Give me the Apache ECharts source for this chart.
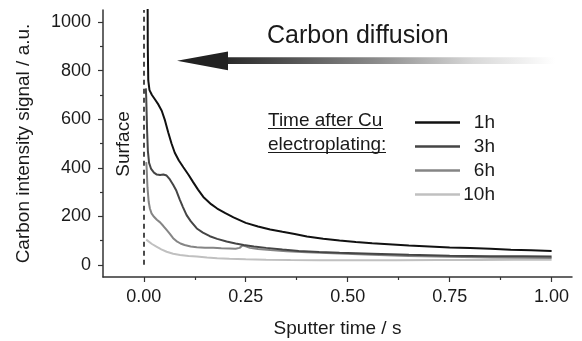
<!DOCTYPE html>
<html>
<head>
<meta charset="utf-8">
<script src="https://cdn.jsdelivr.net/npm/echarts@6/dist/echarts.min.js"></script>
<style>
html,body{margin:0;padding:0;background:#fff;}
#chart{width:582px;height:341px;}
</style>
</head>
<body>
<div id="chart"></div>
<script>
// ---- data ----
var seriesNames = ['1h', '3h', '6h', '10h'];

var x1h = [0.009, 0.0098, 0.011, 0.014, 0.020, 0.028, 0.036, 0.044, 0.052, 0.060, 0.068, 0.076, 0.086, 0.097, 0.110, 0.121, 0.133, 0.146, 0.165, 0.180, 0.200, 0.220, 0.250, 0.280, 0.310, 0.340, 0.370, 0.400, 0.440, 0.480, 0.520, 0.560, 0.600, 0.650, 0.700, 0.750, 0.800, 0.850, 0.900, 0.950, 1.000];
var y1h = [1300, 900, 760, 720, 700, 680, 660, 635, 595, 545, 500, 462, 430, 402, 370, 341, 310, 280, 250, 232, 213, 196, 173, 158, 146, 136, 127, 117, 108, 100, 94, 89, 85, 80, 76, 72, 69, 66, 62, 60, 57];

var x3h = [0.005, 0.006, 0.008, 0.010, 0.013, 0.018, 0.025, 0.032, 0.040, 0.048, 0.056, 0.064, 0.072, 0.080, 0.088, 0.096, 0.105, 0.115, 0.130, 0.145, 0.162, 0.180, 0.203, 0.225, 0.245, 0.270, 0.300, 0.340, 0.380, 0.430, 0.480, 0.560, 0.650, 0.750, 0.850, 0.930, 1.000];
var y3h = [727, 690, 560, 470, 420, 395, 380, 372, 370, 372, 368, 352, 330, 305, 270, 238, 205, 180, 150, 133, 118, 107, 96, 88, 82, 76, 70, 63, 57, 53, 50, 46, 42, 38, 36, 35, 34];

var x6h = [0.006, 0.007, 0.009, 0.012, 0.015, 0.019, 0.025, 0.032, 0.040, 0.048, 0.056, 0.064, 0.072, 0.080, 0.090, 0.100, 0.115, 0.130, 0.150, 0.170, 0.190, 0.210, 0.225, 0.235, 0.242, 0.250, 0.260, 0.280, 0.310, 0.350, 0.400, 0.480, 0.560, 0.650, 0.750, 0.850, 0.930, 1.000];
var y6h = [423, 400, 320, 260, 232, 212, 198, 186, 175, 160, 144, 128, 110, 98, 88, 82, 76, 73, 71, 70, 68, 67, 66, 70, 80, 76, 70, 65, 61, 56, 52, 47, 42, 37, 33, 30, 29, 28];

var x10h = [0.006, 0.010, 0.020, 0.031, 0.043, 0.056, 0.072, 0.089, 0.110, 0.130, 0.155, 0.180, 0.210, 0.250, 0.300, 0.360, 0.430, 0.520, 0.620, 0.720, 0.820, 0.910, 1.000];
var y10h = [104, 98, 86, 75, 64, 54, 46, 41, 37, 34, 30, 27, 25, 23, 21, 20, 19, 19, 19, 20, 20, 21, 21];

var xTickValues = [0, 0.25, 0.5, 0.75, 1.0];
var xMinorTickValues = [0.125, 0.375, 0.625, 0.875];
var yTickValues = [0, 200, 400, 600, 800, 1000];
var yMinorTickValues = [100, 300, 500, 700, 900];

var legendTitle = ['Time after Cu', 'electroplating:'];
var arrowLabel = 'Carbon diffusion';
var surfaceLabel = 'Surface';

// ---- chart ----
var FONT = '"Liberation Sans", Arial, Helvetica, sans-serif';
var TXT = '#1a1a1a';
var colors = ['#111111', '#454545', '#858585', '#c0c0c0'];

function pairs(xs, ys) { return xs.map(function (x, i) { return [x, ys[i]]; }); }
var seriesData = [pairs(x1h, y1h), pairs(x3h, y3h), pairs(x6h, y6h), pairs(x10h, y10h)];

var chart = echarts.init(document.getElementById('chart'), null, { renderer: 'canvas' });

var series = seriesNames.map(function (n, i) {
  var s = {
    name: n, type: 'line', data: seriesData[i], showSymbol: false, symbol: 'none',
    smooth: false, clip: true, animation: false,
    lineStyle: { color: colors[i], width: 2 }, itemStyle: { color: colors[i] },
    z: 10 - i
  };
  if (i === 0) {
    s.markLine = {
      silent: true, symbol: ['none', 'none'], animation: false,
      label: { show: false },
      lineStyle: { type: [5, 4], color: '#111', width: 1.5 },
      data: [[{ coord: [0, 0] }, { coord: [0, 1050] }]]
    };
  }
  return s;
});

var axisLine = { show: true, onZero: false, lineStyle: { color: '#333', width: 1.5 } };
var hiddenLine = { show: false, onZero: false };

var option = {
  animation: false,
  backgroundColor: '#fff',
  grid: { left: 103, right: 10, top: 10, bottom: 64, containLabel: false, outerBoundsMode: 'none' },
  xAxis: [{
    type: 'value', min: -0.1, max: 1.05, position: 'bottom',
    name: 'Sputter time / s', nameLocation: 'middle', nameGap: 42,
    nameTextStyle: { fontFamily: FONT, fontSize: 19, color: TXT },
    axisLine: axisLine,
    axisTick: { show: true, inside: false, length: 5, customValues: xTickValues, lineStyle: { color: '#333', width: 1.2 } },
    axisLabel: { show: true, customValues: xTickValues, margin: 11, fontFamily: FONT, fontSize: 18, color: TXT,
      formatter: function (v) { return v.toFixed(2); } },
    splitLine: { show: false }
  }, {
    type: 'value', min: -0.1, max: 1.05, position: 'bottom', offset: 0,
    axisLine: hiddenLine,
    axisTick: { show: true, inside: false, length: 3, customValues: xMinorTickValues, lineStyle: { color: '#333', width: 1.2 } },
    axisLabel: { show: false },
    splitLine: { show: false }
  }],
  yAxis: [{
    type: 'value', min: -50, max: 1050, position: 'left',
    name: 'Carbon intensity signal / a.u.', nameLocation: 'middle', nameGap: 70,
    nameTextStyle: { fontFamily: FONT, fontSize: 19, color: TXT },
    axisLine: axisLine,
    axisTick: { show: true, inside: false, length: 5, customValues: yTickValues, lineStyle: { color: '#333', width: 1.2 } },
    axisLabel: { show: true, customValues: yTickValues, margin: 12, fontFamily: FONT, fontSize: 18, color: TXT,
      formatter: function (v) { return String(v); } },
    splitLine: { show: false }
  }, {
    type: 'value', min: -50, max: 1050, position: 'left', offset: 0,
    axisLine: hiddenLine,
    axisTick: { show: true, inside: false, length: 3, customValues: yMinorTickValues, lineStyle: { color: '#333', width: 1.2 } },
    axisLabel: { show: false },
    splitLine: { show: false }
  }],
  legend: {
    data: seriesNames, orient: 'vertical', left: 415, top: 113, padding: 0,
    icon: 'rect', itemWidth: 45, itemHeight: 2.5, itemGap: 5, itemTextGap: 8,
    selectedMode: false,
    formatter: function (name) { return '{t|' + name + '}'; },
    textStyle: {
      fontFamily: FONT, fontSize: 19, color: TXT,
      rich: { t: { width: 30, align: 'right', fontFamily: FONT, fontSize: 19, color: TXT } }
    }
  },
  graphic: [
    { type: 'text', left: 267, top: 24, style: { text: arrowLabel, font: '25px ' + FONT, fill: TXT } },
    { type: 'polygon', shape: { points: [[177, 60.7], [228, 51.5], [228, 70.3]] }, style: { fill: '#222' } },
    { type: 'rect', shape: { x: 228, y: 57.3, width: 327, height: 6.7 },
      style: { fill: new echarts.graphic.LinearGradient(0, 0, 1, 0, [
        { offset: 0, color: '#2a2a2a' }, { offset: 0.45, color: '#8a8a8a' },
        { offset: 0.75, color: '#d8d8d8' }, { offset: 1, color: '#ffffff' }]) } },
    { type: 'text', x: 124, y: 144, rotation: Math.PI / 2,
      style: { text: surfaceLabel, font: '19px ' + FONT, fill: TXT, align: 'center', verticalAlign: 'middle' } },
    { type: 'text', x: 268, y: 121, style: { text: legendTitle[0], font: '19px ' + FONT, fill: TXT, verticalAlign: 'middle' } },
    { type: 'text', x: 268, y: 145, style: { text: legendTitle[1], font: '19px ' + FONT, fill: TXT, verticalAlign: 'middle' } },
    { type: 'line', shape: { x1: 268, y1: 128.5, x2: 383, y2: 128.5 }, style: { stroke: TXT, lineWidth: 1.2 } },
    { type: 'line', shape: { x1: 268, y1: 152.5, x2: 386, y2: 152.5 }, style: { stroke: TXT, lineWidth: 1.2 } }
  ],
  series: series
};
chart.setOption(option);
</script>
</body>
</html>
